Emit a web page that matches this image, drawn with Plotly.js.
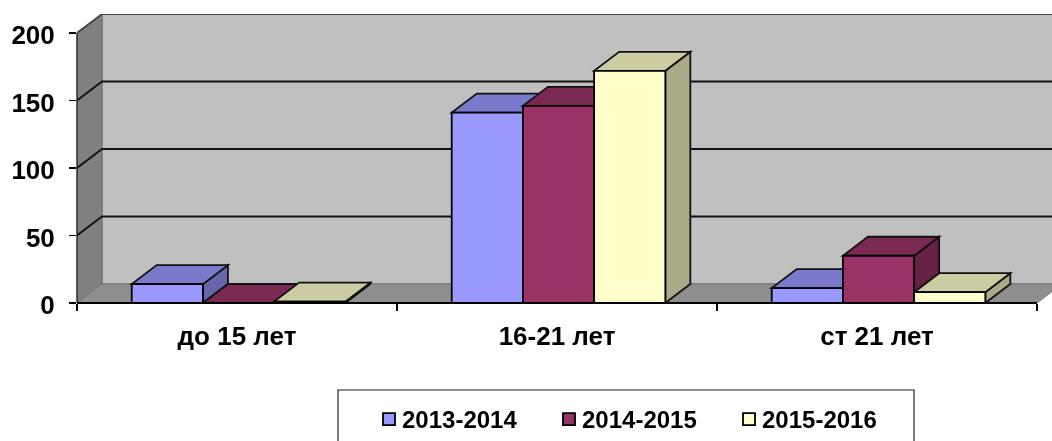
<!DOCTYPE html>
<html><head><meta charset="utf-8">
<script src="https://cdn.plot.ly/plotly-3.0.1.min.js"></script>
<style>html,body{margin:0;padding:0;background:#fff;overflow:hidden}#c{width:1052px;height:441px;filter:blur(0.45px)}</style>
</head><body><div id="c"></div>
<script>
const categories = ['до 15 лет', '16-21 лет', 'ст 21 лет'];
const seriesNames = ['2013-2014', '2014-2015', '2015-2016'];
const values2013 = [14, 141, 11];
const values2014 = [0, 146, 35];
const values2015 = [1, 172, 8];
const yTicks = [0, 50, 100, 150, 200];
const frontColors = ['#9999FF', '#993366', '#FFFFCC'];
const topColors = ['#7A7ACC', '#7A2952', '#CCCCA3'];
const sideColors = ['#6666AA', '#662244', '#AAAA88'];

const allValues = [values2013, values2014, values2015];
const W = 1052, H = 441, L = 77, T = 14, B = 138;
const plotW = W - L, plotH = H - T - B;
const pxPerCat = 320, pxPerUnit = 1.35;
const depthX = 25 / pxPerCat, depthY = 19 / pxPerUnit;
const xMin = -0.5, xMax = xMin + plotW / pxPerCat, xEnd = 2.5;
const yMax = 200 + depthY;
const barW = 71.2 / pxPerCat, groupStart = -0.3290;

const poly = pts => 'M' + pts.map(p => p[0] + ',' + p[1]).join('L') + 'Z';
const shapes = [];
const edge = '#111';
shapes.push({type:'path', layer:'below', xref:'x', yref:'y', line:{color:'#555',width:1}, fillcolor:'#C0C0C0',
  path: poly([[xMin+depthX,depthY],[xMax+1,depthY],[xMax+1,yMax],[xMin+depthX,yMax]])});
shapes.push({type:'path', layer:'below', xref:'x', yref:'y', line:{color:'#777',width:1}, fillcolor:'#808080',
  path: poly([[xMin,0],[xMin+depthX,depthY],[xMin+depthX,yMax],[xMin,200]])});
shapes.push({type:'path', layer:'below', xref:'x', yref:'y', line:{color:'#777',width:1}, fillcolor:'#8F8F8F',
  path: poly([[xMin,0],[xMin+depthX,depthY],[xEnd+depthX,depthY],[xEnd,0]])});
yTicks.forEach(v => {
  if (v === 0) return;
  shapes.push({type:'path', layer:'below', xref:'x', yref:'y', line:{color:v===200?'#444':'#111',width:1.8},
    path:'M'+xMin+','+v+'L'+(xMin+depthX)+','+(v+depthY)+'L'+(xMax+1)+','+(v+depthY)});
});
allValues.forEach((vals, s) => {
  vals.forEach((v, c) => {
    const x0 = c + groupStart + s * barW, x1 = x0 + barW;
    shapes.push({type:'path', layer:'below', xref:'x', yref:'y', line:{color:edge,width:1.8}, fillcolor:sideColors[s],
      path: poly([[x1,0],[x1+depthX,depthY],[x1+depthX,v+depthY],[x1,v]])});
    shapes.push({type:'path', layer:'below', xref:'x', yref:'y', line:{color:edge,width:1.8}, fillcolor:topColors[s],
      path: poly([[x0,v],[x1,v],[x1+depthX,v+depthY],[x0+depthX,v+depthY]])});
  });
});
const pxX = px => (px - L) / plotW;
const pxY = py => (H - B - py) / plotH;
shapes.push({type:'line', layer:'above', xref:'paper', yref:'paper', x0:0, x1:pxX(1037), y0:0, y1:0, line:{color:'#000',width:1.8}});
shapes.push({type:'line', layer:'above', xref:'paper', yref:'paper', x0:0, x1:0, y0:0, y1:pxY(33), line:{color:'#222',width:1.4}});
shapes.push({type:'rect', layer:'above', xref:'paper', yref:'paper', x0:pxX(338), x1:pxX(914), y0:pxY(390), y1:pxY(450), line:{color:'#222',width:1.2}, fillcolor:'rgba(0,0,0,0)'});

const traces = seriesNames.map((name, s) => ({
  type:'bar', name, x:categories, y:allValues[s], width:barW, offset:groupStart + s*barW,
  marker:{color:frontColors[s], line:{color:'#000',width:1.8}}
}));
const tickFont = {family:'"Liberation Sans", Arial, sans-serif', size:26, color:'#000', weight:700};
const legendFont = {family:'"Liberation Sans", Arial, sans-serif', size:24, color:'#000', weight:700};
const layout = {
  width:W, height:H, margin:{l:L, r:0, t:T, b:B, autoexpand:false},
  paper_bgcolor:'#fff', plot_bgcolor:'rgba(0,0,0,0)', barmode:'overlay', shapes,
  font:tickFont,
  xaxis:{type:'category', range:[xMin,xMax], tickson:'boundaries', ticks:'outside', ticklen:7, tickwidth:1.2, tickcolor:'#000',
    showgrid:false, showline:false, zeroline:false, tickfont:tickFont, ticklabelstandoff:15, automargin:false},
  yaxis:{range:[0,yMax], tickvals:yTicks, ticktext:yTicks.map(String), ticks:'outside', ticklen:7, tickwidth:1.2, tickcolor:'#000',
    showgrid:false, showline:false, zeroline:false, tickfont:tickFont, ticklabelstandoff:9, ticklabelshift:2, automargin:false},
  legend:{orientation:'h', x:pxX(362), y:pxY(397), xanchor:'left', yanchor:'top', font:legendFont, bgcolor:'rgba(0,0,0,0)',
    entrywidth:135, entrywidthmode:'pixels', itemwidth:30, itemclick:false, itemdoubleclick:false, traceorder:'normal'},
  showlegend:true
};
Plotly.newPlot('c', traces, layout, {displayModeBar:false, staticPlot:true}).then(() => {
  document.querySelectorAll('#c .legend .legendsymbols').forEach(n => n.setAttribute('transform','translate(7,0)'));
});
</script></body></html>
